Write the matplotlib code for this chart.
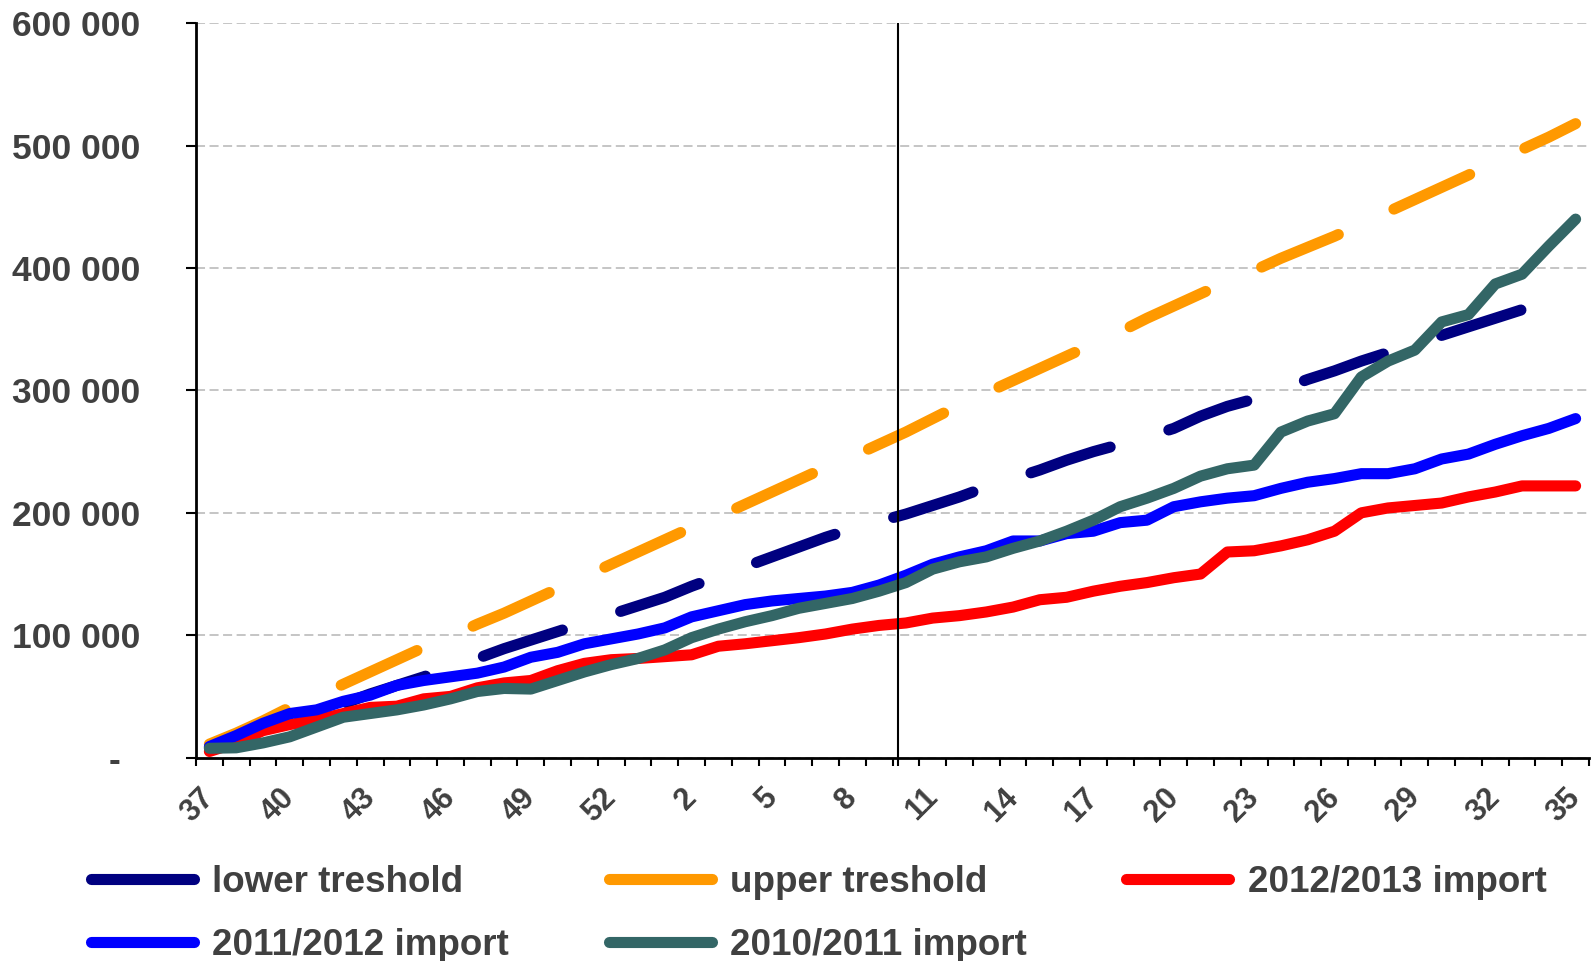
import matplotlib
matplotlib.use('Agg')
import matplotlib.pyplot as plt
from matplotlib.lines import Line2D
from matplotlib.transforms import ScaledTranslation
import numpy as np

plt.rcParams['font.family'] = ['Liberation Sans', 'DejaVu Sans']
plt.rcParams['font.weight'] = 'bold'

# marketing year weeks (37 .. 53, then 1 .. 35)
weeks = [37, 38, 39, 40, 41, 42, 43, 44, 45, 46, 47, 48, 49, 50, 51, 52, 53,
         1, 2, 3, 4, 5, 6, 7, 8, 9, 10, 11, 12, 13, 14, 15, 16, 17, 18, 19, 20,
         21, 22, 23, 24, 25, 26, 27, 28, 29, 30, 31, 32, 33, 34, 35]

# cumulative values, thousands
lower_k = [8, 15, 23, 30, 37, 44, 52, 59, 66, 74, 81, 89, 96, 103, 110, 117, 124, 131, 140, 148,
           156, 164, 172, 180, 187, 193, 199, 206, 213, 221, 228, 235, 243, 250, 256, 262, 269, 279, 287, 293,
           301, 309, 316, 324, 331, 338, 345, 352, 359, 366, 374, 383]
upper_k = [11, 20, 30, 41, 50, 60, 70, 80, 90, 99, 109, 118, 128, 138, 148, 158, 168, 178, 188, 197,
           207, 217, 227, 237, 246, 256, 266, 277, 288, 298, 308, 318, 328, 338, 348, 359, 369, 379, 389, 398,
           408, 417, 426, 436, 446, 456, 466, 476, 487, 497, 507, 518]
imp_1213_k = [5, 12, 22, 27, 31, 36, 41, 42, 48, 50, 57, 61, 63, 71, 77, 80, 81, 82.5, 84, 91,
              93, 95.5, 98, 101, 105, 108, 110, 114, 116, 119, 123, 129, 131, 136, 140, 143, 147, 150, 168, 169,
              173, 178, 185, 200, 204, 206, 208, 213, 217, 222, 222, 222]
imp_1112_k = [9, 18, 28, 36, 39, 46, 51, 59, 63, 66, 69, 74, 82, 86, 93, 97, 101, 106, 115, 120,
              125, 128, 130, 132, 135, 141, 149, 158, 164, 169, 177, 177, 183, 185, 192, 194, 205, 209, 212, 214,
              220, 225, 228, 232, 232, 236, 244, 248, 256, 263, 269, 277]
imp_1011_k = [7.6, 8, 12, 17, 25, 33, 36, 39, 43, 48, 54, 56.5, 56, 63, 70, 76, 81, 88, 98, 105,
              111, 116, 122, 126, 130, 136, 143, 154, 160, 164, 171, 177, 185, 194, 205, 212, 220, 230, 236, 239,
              266, 275, 281, 311, 324, 333, 356, 362, 387, 395, 418, 440]

ytick_vals = [0, 100, 200, 300, 400, 500, 600]
ytick_labels = ['-  ', '100 000', '200 000', '300 000', '400 000', '500 000', '600 000']

series = [
    (lower_k, 'lower treshold', '#000080', True),
    (upper_k, 'upper treshold', '#FF9900', True),
    (imp_1213_k, '2012/2013 import', '#FF0000', False),
    (imp_1112_k, '2011/2012 import', '#0000FF', False),
    (imp_1011_k, '2010/2011 import', '#336666', False),
]

TXT = '#404040'
LW = 8
marker_pos = 25.7  # vertical marker (current week)

fig = plt.figure(figsize=(15.93, 9.61), dpi=100)
ax = fig.add_axes([196 / 1593, 1 - 757.6 / 961, (1589 - 196) / 1593, (757.6 - 23.3) / 961])

x = np.arange(len(weeks))
handles = []
for vals, label, color, dashed in series:
    line, = ax.plot(x, vals, color=color, lw=LW, solid_capstyle='round', solid_joinstyle='round',
                    dash_capstyle='round', dash_joinstyle='round', clip_on=False, zorder=3)
    if dashed:
        line.set_dashes((7.5, 5.5))
    handles.append(Line2D([], [], color=color, lw=LW, solid_capstyle='round'))

ax.axvline(marker_pos, color='black', lw=1.5, zorder=4)

ax.set_xlim(-0.5, len(weeks) - 0.5)
ax.set_ylim(0, 600)
ax.set_yticks(ytick_vals)
ax.set_yticklabels(ytick_labels)
ax.yaxis.grid(True, color='#C0C0C0', linestyle=(0, (5, 2.5)), linewidth=1.3)
ax.set_axisbelow(True)

ax.set_xticks(x[::3])
ax.set_xticklabels([str(w) for w in weeks[::3]])
ax.set_xticks(list(np.arange(-0.5, len(weeks), 1)) + [marker_pos], minor=True)

ax.tick_params(axis='y', length=7.5, width=1.5, direction='out', pad=32.5, labelsize=25.5, labelcolor=TXT)
ax.tick_params(axis='x', which='major', length=0, pad=29.5, labelsize=22, labelcolor=TXT)
ax.tick_params(axis='x', which='minor', length=6, width=1.5, direction='out', color='black')

# rotated week labels: end of the text sits just right of the category
shift = ScaledTranslation(6 / 100, 0, fig.dpi_scale_trans)
for t in ax.get_xticklabels():
    t.set_rotation(45)
    t.set_ha('right')
    t.set_va('baseline')
    t.set_rotation_mode('anchor')
    t.set_transform(t.get_transform() + shift)

for s in ['top', 'right']:
    ax.spines[s].set_visible(False)
for s in ['left', 'bottom']:
    ax.spines[s].set_linewidth(2)
    ax.spines[s].set_color('black')

# legend fills column-wise, so reorder to get rows like the original
order = [0, 3, 1, 4, 2]
fig.legend([handles[i] for i in order], [series[i][1] for i in order], ncol=3,
           loc='upper left', bbox_to_anchor=(91 / 1593, 1 - 865 / 961), frameon=False,
           fontsize=26.5, labelcolor=TXT, handlelength=2.8, handletextpad=0.5,
           columnspacing=2.7, labelspacing=0.75, borderpad=0, borderaxespad=0)

fig.savefig('out.png', dpi=100)
